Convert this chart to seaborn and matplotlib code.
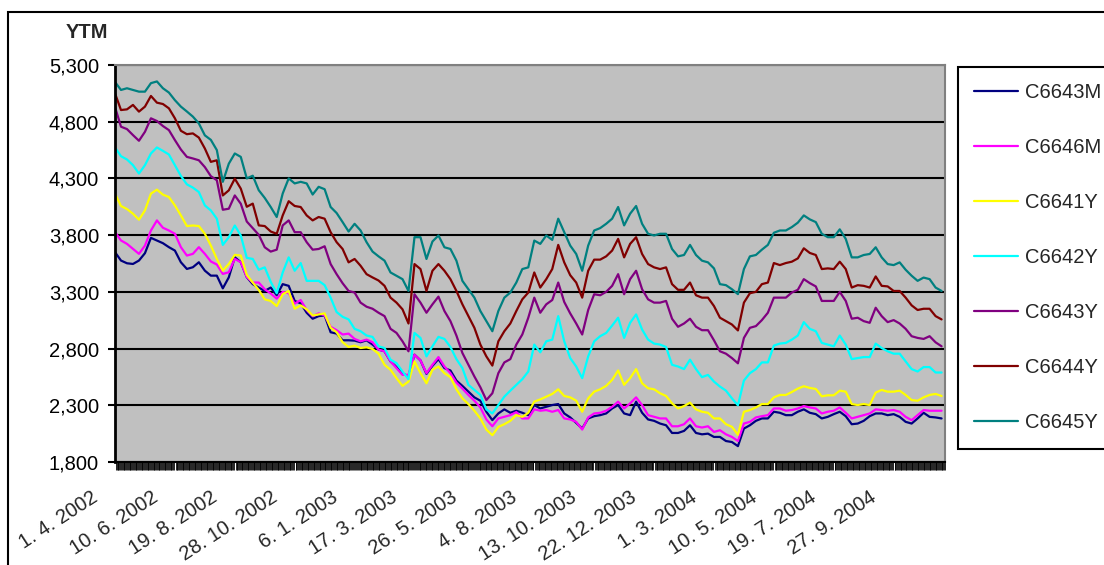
import numpy as np
import pandas as pd
import matplotlib
matplotlib.use("Agg")
import matplotlib.pyplot as plt
import matplotlib.dates as mdates
import matplotlib.transforms as mtransforms
from matplotlib.patches import Rectangle
from matplotlib.ticker import FixedLocator, StrMethodFormatter
import seaborn as sns

# ---------------- data ----------------
start_date = "2002-04-01"
n_weeks = 139
series_names = ["C6643M", "C6646M", "C6641Y", "C6642Y", "C6643Y", "C6644Y", "C6645Y"]
series_colors = ["#000080", "#FF00FF", "#FFFF00", "#00FFFF", "#800080", "#800000", "#008080"]

c6643m = [3650, 3576, 3552, 3546, 3576, 3641, 3776, 3753, 3729, 3694, 3664, 3561, 3502, 3517, 3561, 3487, 3443, 3443, 3331, 3428, 3605, 3561, 3430,
          3368, 3338, 3308, 3338, 3270, 3368, 3353, 3220, 3199, 3116, 3063, 3086, 3092, 2944, 2932, 2873, 2873, 2870, 2856, 2873, 2835, 2791,
          2776, 2687, 2637, 2577, 2559, 2746, 2696, 2577, 2648, 2707, 2628, 2607, 2518, 2471, 2420, 2370, 2340, 2243, 2169, 2228, 2264, 2234, 2252,
          2234, 2213, 2302, 2272, 2287, 2302, 2311, 2228, 2193, 2145, 2095, 2184, 2204, 2213, 2228, 2272, 2302, 2228, 2213, 2332, 2234, 2175,
          2163, 2139, 2124, 2056, 2056, 2074, 2124, 2056, 2044, 2050, 2021, 2021, 1985, 1976, 1940, 2095, 2124, 2163, 2184, 2184, 2243, 2234, 2213,
          2213, 2243, 2264, 2234, 2222, 2184, 2198, 2222, 2243, 2204, 2133, 2139, 2163, 2204, 2228, 2228, 2213, 2222, 2198, 2154, 2139, 2184, 2234, 2198, 2193, 2184]
c6646m = [3827, 3753, 3723, 3679, 3635, 3708, 3841, 3930, 3865, 3841, 3812, 3694, 3620, 3635, 3694, 3635, 3568, 3541, 3458, 3473, 3590, 3561, 3430,
          3382, 3382, 3323, 3285, 3240, 3300, 3288, 3196, 3228, 3140, 3086, 3110, 3092, 2992, 2962, 2924, 2932, 2885, 2864, 2879, 2856, 2791,
          2776, 2687, 2628, 2568, 2568, 2746, 2696, 2583, 2657, 2725, 2642, 2583, 2500, 2447, 2391, 2340, 2281, 2175, 2115, 2184, 2198, 2213, 2240,
          2184, 2184, 2264, 2252, 2258, 2243, 2258, 2184, 2175, 2154, 2086, 2193, 2228, 2234, 2252, 2287, 2332, 2272, 2317, 2370, 2302, 2213,
          2198, 2184, 2184, 2115, 2115, 2133, 2184, 2115, 2104, 2115, 2065, 2080, 2044, 2021, 1985, 2139, 2154, 2193, 2204, 2213, 2272, 2272, 2252,
          2258, 2272, 2293, 2281, 2272, 2228, 2243, 2252, 2281, 2234, 2184, 2198, 2213, 2228, 2264, 2258, 2252, 2258, 2243, 2198, 2169, 2213, 2258, 2252, 2252, 2252]
c6641y = [4166, 4057, 4030, 3989, 3936, 4018, 4166, 4201, 4157, 4136, 4062, 3974, 3880, 3885, 3880, 3812, 3708, 3590, 3487, 3546, 3626, 3620, 3450,
          3382, 3317, 3234, 3220, 3175, 3279, 3308, 3151, 3181, 3146, 3092, 3101, 3110, 2983, 2944, 2856, 2814, 2826, 2805, 2811, 2796, 2755,
          2657, 2613, 2539, 2471, 2509, 2687, 2583, 2494, 2613, 2642, 2583, 2548, 2441, 2361, 2311, 2252, 2184, 2086, 2036, 2110, 2133, 2163, 2213,
          2198, 2234, 2332, 2352, 2376, 2400, 2441, 2382, 2370, 2341, 2243, 2361, 2420, 2441, 2471, 2524, 2607, 2480, 2539, 2619, 2494, 2450,
          2441, 2406, 2382, 2317, 2272, 2293, 2323, 2264, 2243, 2234, 2184, 2184, 2133, 2110, 2040, 2243, 2258, 2281, 2311, 2311, 2370, 2391, 2391,
          2417, 2447, 2468, 2453, 2444, 2379, 2388, 2388, 2429, 2420, 2311, 2302, 2311, 2302, 2412, 2435, 2420, 2420, 2429, 2391, 2346, 2340, 2370, 2391, 2400, 2382]
c6642y = [4573, 4496, 4467, 4417, 4343, 4417, 4520, 4573, 4543, 4511, 4417, 4322, 4248, 4219, 4180, 4062, 4018, 3945, 3714, 3782, 3885, 3797, 3600,
          3590, 3495, 3516, 3388, 3288, 3471, 3604, 3486, 3554, 3397, 3397, 3397, 3359, 3249, 3122, 3080, 3057, 2974, 2953, 2915, 2903, 2820,
          2805, 2702, 2672, 2598, 2530, 2938, 2894, 2731, 2820, 2903, 2885, 2814, 2707, 2628, 2480, 2435, 2391, 2264, 2228, 2302, 2376, 2429, 2480,
          2530, 2598, 2835, 2767, 2864, 2879, 3086, 2864, 2716, 2642, 2539, 2731, 2864, 2909, 2938, 3003, 3072, 2894, 3027, 3101, 2968, 2879,
          2844, 2835, 2814, 2657, 2642, 2619, 2702, 2619, 2548, 2568, 2509, 2465, 2429, 2361, 2300, 2518, 2583, 2619, 2678, 2678, 2826, 2844, 2850,
          2879, 2915, 3033, 2974, 2953, 2850, 2835, 2820, 2915, 2835, 2707, 2716, 2725, 2725, 2844, 2805, 2776, 2755, 2755, 2687, 2619, 2598, 2637, 2637, 2589, 2589]
c6643y = [4930, 4756, 4735, 4682, 4632, 4711, 4830, 4806, 4762, 4726, 4638, 4555, 4490, 4476, 4460, 4400, 4320, 4284, 4024, 4033, 4150, 4077, 3920,
          3862, 3803, 3693, 3655, 3672, 3886, 3930, 3826, 3826, 3738, 3672, 3678, 3702, 3545, 3456, 3376, 3308, 3294, 3205, 3169, 3151, 3116,
          3086, 2974, 2938, 2864, 2776, 3279, 3205, 3116, 3190, 3258, 3131, 3042, 2915, 2761, 2657, 2554, 2459, 2346, 2406, 2583, 2678, 2707, 2835,
          2924, 3072, 3249, 3116, 3190, 3228, 3382, 3211, 3110, 3021, 2924, 3140, 3279, 3270, 3300, 3353, 3456, 3279, 3412, 3486, 3323, 3234,
          3205, 3205, 3220, 3063, 2992, 3021, 3063, 2992, 2962, 2962, 2873, 2776, 2755, 2716, 2670, 2894, 2983, 2998, 3051, 3116, 3249, 3249, 3249,
          3294, 3318, 3412, 3377, 3348, 3220, 3220, 3220, 3300, 3220, 3063, 3072, 3042, 3027, 3160, 3086, 3033, 3051, 3021, 2974, 2909, 2894, 2885, 2909, 2855, 2820]
c6644y = [5050, 4903, 4909, 4948, 4889, 4933, 5027, 4968, 4956, 4918, 4830, 4720, 4690, 4697, 4660, 4564, 4446, 4460, 4150, 4195, 4298, 4210, 4050,
          4078, 3886, 3880, 3832, 3812, 3974, 4099, 4057, 4048, 3974, 3930, 3960, 3945, 3826, 3738, 3678, 3560, 3590, 3530, 3456, 3427, 3400,
          3353, 3249, 3205, 3146, 3021, 3545, 3501, 3308, 3486, 3545, 3486, 3412, 3308, 3190, 3086, 2983, 2835, 2731, 2650, 2864, 2953, 3021, 3131,
          3234, 3294, 3471, 3338, 3412, 3501, 3714, 3560, 3447, 3382, 3249, 3486, 3584, 3584, 3613, 3664, 3767, 3604, 3723, 3782, 3634, 3545,
          3516, 3501, 3516, 3368, 3318, 3318, 3382, 3270, 3249, 3249, 3175, 3072, 3042, 3012, 2960, 3205, 3288, 3300, 3368, 3382, 3554, 3536, 3554,
          3566, 3595, 3684, 3643, 3625, 3501, 3507, 3501, 3566, 3501, 3338, 3359, 3353, 3338, 3436, 3353, 3348, 3308, 3308, 3249, 3181, 3140, 3151, 3151, 3086, 3057]
c6645y = [5150, 5080, 5095, 5080, 5065, 5065, 5140, 5155, 5095, 5057, 4990, 4933, 4890, 4845, 4785, 4680, 4640, 4550, 4270, 4430, 4520, 4490, 4300,
          4324, 4196, 4128, 4048, 3960, 4167, 4300, 4256, 4270, 4256, 4158, 4226, 4205, 4048, 3995, 3915, 3832, 3900, 3841, 3738, 3655, 3613,
          3575, 3471, 3442, 3412, 3308, 3782, 3782, 3590, 3744, 3797, 3693, 3678, 3575, 3397, 3323, 3249, 3131, 3042, 2953, 3131, 3249, 3294, 3382,
          3501, 3516, 3752, 3723, 3797, 3758, 3945, 3826, 3708, 3634, 3486, 3708, 3841, 3862, 3900, 3945, 4048, 3886, 3989, 4057, 3900, 3812,
          3797, 3812, 3812, 3678, 3613, 3625, 3714, 3625, 3575, 3560, 3507, 3368, 3359, 3323, 3280, 3501, 3613, 3625, 3672, 3714, 3821, 3841, 3841,
          3871, 3910, 3974, 3939, 3915, 3812, 3782, 3782, 3851, 3767, 3604, 3604, 3625, 3634, 3693, 3604, 3545, 3536, 3560, 3495, 3442, 3397, 3426, 3412, 3338, 3308]

tick_dates = ["2002-04-01", "2002-06-10", "2002-08-19", "2002-10-28", "2003-01-06", "2003-03-17",
              "2003-05-26", "2003-08-04", "2003-10-13", "2003-12-22", "2004-03-01", "2004-05-10",
              "2004-07-19", "2004-09-27"]
tick_labels = ["1. 4. 2002", "10. 6. 2002", "19. 8. 2002", "28. 10. 2002", "6. 1. 2003", "17. 3. 2003",
               "26. 5. 2003", "4. 8. 2003", "13. 10. 2003", "22. 12. 2003", "1. 3. 2004", "10. 5. 2004",
               "19. 7. 2004", "27. 9. 2004"]
y_ticks = [1800, 2300, 2800, 3300, 3800, 4300, 4800, 5300]

# ---------------- frame ----------------
dates = pd.date_range(start_date, periods=n_weeks, freq="7D")
all_vals = [c6643m, c6646m, c6641y, c6642y, c6643y, c6644y, c6645y]
df = pd.concat([pd.DataFrame({"date": dates, "value": v, "series": n})
                for n, v in zip(series_names, all_vals)], ignore_index=True)

sns.set_style("white")
plt.rcParams["font.family"] = ["Liberation Sans", "DejaVu Sans"]
FS = 14.5

W, H = 1104, 565
fig = plt.figure(figsize=(W / 100, H / 100), dpi=100)
L, R, T, B = 115, 945, 65, 462
ax = fig.add_axes([L / W, 1 - B / H, (R - L) / W, (B - T) / H])
ax.set_facecolor("#C0C0C0")

sns.lineplot(data=df, x="date", y="value", hue="series", hue_order=series_names,
             palette=dict(zip(series_names, series_colors)), linewidth=1.6,
             estimator=None, sort=False, legend=False, ax=ax)

d0 = pd.Timestamp(start_date)
ax.set_xlim(d0, d0 + pd.Timedelta(days=970))
ax.set_ylim(1800, 5300)
ax.set_xlabel("")
ax.set_ylabel("")

# y axis
ax.set_yticks(y_ticks)
ax.yaxis.set_major_formatter(StrMethodFormatter("{x:,.0f}"))
ax.tick_params(axis="y", which="major", direction="out", length=5, width=1.5,
               pad=6.5, labelsize=FS, colors="black", left=True)
ax.grid(axis="y", color="black", linewidth=1.5)
ax.grid(axis="x", visible=False)
ax.set_axisbelow(True)

# x axis
ax.xaxis.set_major_locator(FixedLocator(mdates.date2num(pd.to_datetime(tick_dates))))
ax.set_xticklabels(tick_labels)
ax.xaxis.set_minor_locator(mdates.DayLocator(interval=1))
ax.tick_params(axis="x", which="minor", direction="out", length=5.5, width=0.6,
               colors="black", bottom=True)
ax.tick_params(axis="x", which="major", direction="out", length=0, pad=24,
               labelsize=FS, bottom=True)
offset = mtransforms.ScaledTranslation(-19 / 100, 0, fig.dpi_scale_trans)
for lab in ax.get_xticklabels():
    lab.set_rotation(33)
    lab.set_ha("right")
    lab.set_va("center")
    lab.set_rotation_mode("anchor")
    lab.set_transform(lab.get_transform() + offset)

for side in ["top", "right"]:
    ax.spines[side].set_color("#808080")
    ax.spines[side].set_linewidth(1.5)
ax.spines["left"].set_color("black")
ax.spines["left"].set_linewidth(2)
ax.spines["bottom"].set_color("black")
ax.spines["bottom"].set_linewidth(1.5)

# title-like label
fig.text(87 / W, 1 - 32 / H, "YTM", ha="center", va="center", fontsize=FS, fontweight="bold")

# legend
leg = fig.legend(handles=ax.get_lines()[:len(series_names)], labels=series_names,
                 loc="upper left", bbox_to_anchor=(958 / W, 1 - 67 / H), borderaxespad=0,
                 frameon=True, fancybox=False, edgecolor="black", framealpha=1,
                 facecolor="white", fontsize=FS, borderpad=0.8, labelspacing=1.79,
                 handlelength=2.2, handletextpad=0.35)
leg.get_frame().set_linewidth(1.5)

# outer chart border
fig.add_artist(Rectangle((8 / W, -0.5), 2.0, 0.5 + 1 - 12 / H, transform=fig.transFigure,
                         fill=False, edgecolor="black", linewidth=1.5))

fig.savefig("out.png", dpi=100)
